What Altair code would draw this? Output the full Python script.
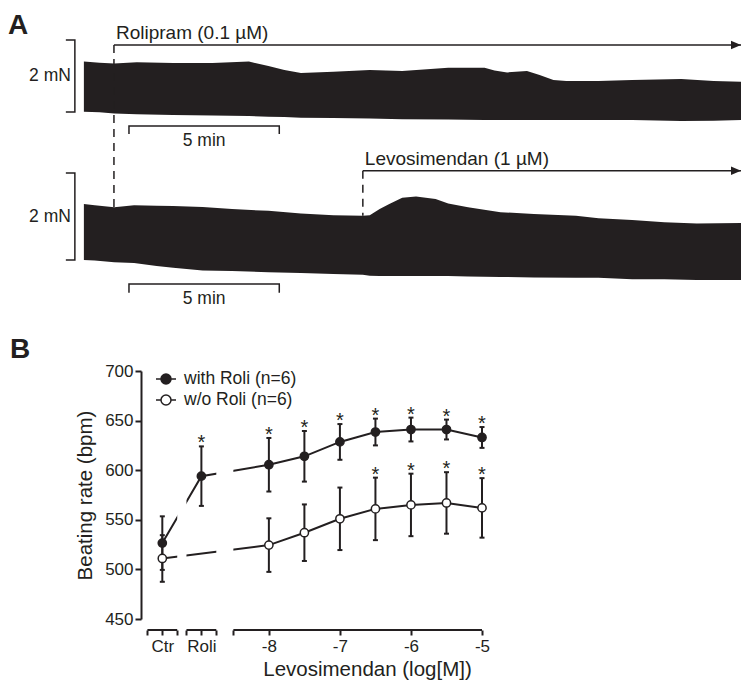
import altair as alt
import pandas as pd

FONT = "Liberation Sans"
INK = "#231f20"

# ---------------- Panel A: force traces (time in min, force in mN) ----------------
trace1_t = [0, 0.52, 1.01, 1.76, 2.97, 4.28, 5.49, 6.14, 6.67, 7.22, 8.30, 9.51, 10.59,
            12.12, 13.33, 13.66, 14.08, 14.74, 15.16, 15.62, 16.05, 17.12, 18.24, 19.87, 20.95, 21.86]
trace1_top = [1.40, 1.37, 1.35, 1.38, 1.36, 1.36, 1.40, 1.28, 1.17, 1.08, 1.12, 1.17, 1.14,
              1.23, 1.23, 1.15, 1.10, 1.14, 1.03, 0.89, 0.86, 0.86, 0.89, 0.92, 0.86, 0.84]
trace1_low = [0.01, -0.01, -0.04, -0.06, -0.08, -0.10, -0.11, -0.13, -0.14, -0.16, -0.17, -0.18, -0.20,
              -0.21, -0.22, -0.22, -0.22, -0.22, -0.22, -0.22, -0.22, -0.22, -0.22, -0.25, -0.24, -0.22]

trace2_t = [0, 0.36, 1.01, 1.67, 2.42, 2.97, 3.95, 4.93, 6.14, 7.22, 8.30, 9.28, 9.51, 9.84,
            10.16, 10.59, 11.05, 11.70, 12.12, 12.78, 13.86, 14.97, 16.37, 17.12, 18.24, 19.31, 20.39, 21.86]
trace2_top = [1.29, 1.26, 1.21, 1.26, 1.25, 1.24, 1.22, 1.17, 1.13, 1.07, 1.03, 1.02, 1.03, 1.17,
              1.29, 1.43, 1.46, 1.40, 1.30, 1.21, 1.10, 1.06, 1.02, 0.96, 0.92, 0.87, 0.84, 0.85]
trace2_low = [0, -0.01, -0.05, -0.07, -0.14, -0.18, -0.24, -0.25, -0.28, -0.30, -0.32, -0.34, -0.36, -0.37,
              -0.37, -0.37, -0.37, -0.37, -0.37, -0.38, -0.39, -0.40, -0.41, -0.41, -0.44, -0.44, -0.46, -0.46]

T_END = 21.86          # end of shown recording (min)
ROLI_T = 1.0           # rolipram added (min)
LEVO_T = 9.28          # levosimendan added (min)
TIME_BAR = [1.5, 6.5]  # 5 min scale bar
FORCE_BAR = [0, 2]     # 2 mN scale bar
roli_label = "Rolipram (0.1 µM)"
levo_label = "Levosimendan (1 µM)"

# ---------------- Panel B: beating rate ----------------
conditions = ["Ctr", "Roli", "-8", "-7.5", "-7", "-6.5", "-6", "-5.5", "-5"]
cond_pos = [-9.5, -8.95, -8, -7.5, -7, -6.5, -6, -5.5, -5]
with_mean = [526.5, 594, 605.5, 614, 628.5, 638.5, 641, 641, 633]
with_sem = [27, 30, 27, 25.5, 18, 13.5, 12, 10, 10.5]
with_sig = [False, True, True, True, True, True, True, True, True]
wo_mean = [511, None, 524.5, 537, 551, 561, 565, 567, 562]
wo_sem = [23.5, None, 27, 28.5, 31.5, 31.5, 31.5, 31, 30]
wo_sig = [False, None, False, False, False, True, True, True, True]
series_names = ["with Roli (n=6)", "w/o Roli (n=6)"]
seg_start = [-9.71, -9.16, -8.5]
seg_end = [-9.29, -8.74, -5.0]
x_tick_values = [-9.71, -9.5, -9.29, -9.16, -8.95, -8.74, -8.5, -8, -7, -6, -5]
y_ticks = [450, 500, 550, 600, 650, 700]

# ---------------- layout ----------------
SPACING = 6
PX_PER_MIN = 30.05
A_LEFT = 1.9
W_A = round((T_END - A_LEFT) * PX_PER_MIN)
PX_PER_MN1, PX_PER_MN2 = 36.0, 43.5
GAP_A, GAP_B = 61, 111            # free space below trace panels
H_A1 = round(2 * PX_PER_MN1) + GAP_A - SPACING
H_A2 = round(2 * PX_PER_MN2) + GAP_B - SPACING
W_B, H_B = 341, 248
BX, STUB = -0.3, 0.3
ARROW_PATH = "M-1,-0.85L1,0L-1,0.85Z"
LEGEND_PATH = ("M-1,0L-0.5,0M0.5,0L1,0M-0.5,0A0.5,0.5,0,1,1,0.5,0"
               "A0.5,0.5,0,1,1,-0.5,0Z")


def xa(field):
    return alt.X(field, type="quantitative",
                 scale=alt.Scale(domain=[A_LEFT, T_END], nice=False, zero=False), axis=None)


def trace_panel(t, top, low, height, px_per_mn, arrow_t, arrow_y, label, dash_end,
                bar_y, bar_tick, letter=None, letter_y=0):
    ydom = [FORCE_BAR[1] - height / px_per_mn, FORCE_BAR[1]]

    def ya(field):
        return alt.Y(field, type="quantitative",
                     scale=alt.Scale(domain=ydom, nice=False, zero=False), axis=None)

    df = pd.DataFrame({"t": t, "top": top, "low": low})
    area = alt.Chart(df).mark_area(color=INK).encode(x=xa("t"), y=ya("top"), y2="low")

    br = pd.DataFrame({"x": [BX - STUB, BX, BX, BX - STUB],
                       "y": [FORCE_BAR[1], FORCE_BAR[1], FORCE_BAR[0], FORCE_BAR[0]],
                       "o": [0, 1, 2, 3]})
    bracket = alt.Chart(br).mark_line(color=INK, strokeWidth=1.5).encode(
        x=xa("x"), y=ya("y"), order="o:Q")
    mn = alt.Chart(pd.DataFrame({"x": [BX], "y": [sum(FORCE_BAR) / 2], "s": ["2 mN"]})).mark_text(
        align="right", baseline="middle", dx=-4, fontSize=17.5, color=INK).encode(
        x=xa("x"), y=ya("y"), text="s")

    arr = pd.DataFrame({"x1": [arrow_t], "x2": [T_END], "y": [arrow_y], "yd": [dash_end], "s": [label]})
    arrow_line = alt.Chart(arr).mark_rule(color=INK, strokeWidth=1.5).encode(
        x=xa("x1"), x2="x2", y=ya("y"))
    arrow_head = alt.Chart(arr).mark_point(shape=ARROW_PATH, size=100, filled=True, fill=INK,
                                           strokeWidth=0, opacity=1, xOffset=-5).encode(
        x=xa("x2"), y=ya("y"))
    dash = alt.Chart(arr).mark_rule(color=INK, strokeWidth=1.5, strokeDash=[8, 6]).encode(
        x=xa("x1"), y=ya("y"), y2="yd")
    lab = alt.Chart(arr).mark_text(align="left", baseline="alphabetic", dx=2, dy=-6,
                                   fontSize=19, color=INK).encode(x=xa("x1"), y=ya("y"), text="s")

    tb = pd.DataFrame({"x": [TIME_BAR[0], TIME_BAR[0], TIME_BAR[1], TIME_BAR[1]],
                       "y": [bar_tick, bar_y, bar_y, bar_tick], "o": [0, 1, 2, 3]})
    tbar = alt.Chart(tb).mark_line(color=INK, strokeWidth=1.5).encode(
        x=xa("x"), y=ya("y"), order="o:Q")
    tlab = alt.Chart(pd.DataFrame({"x": [sum(TIME_BAR) / 2], "y": [bar_y], "s": ["5 min"]})).mark_text(
        align="center", baseline="middle", dy=15, fontSize=17.5, color=INK).encode(
        x=xa("x"), y=ya("y"), text="s")

    layers = [area, bracket, mn, arrow_line, arrow_head, dash, lab, tbar, tlab]
    if letter:
        layers.append(alt.Chart(pd.DataFrame({"s": [letter]})).mark_text(
            align="left", baseline="alphabetic", fontSize=28, fontWeight="bold", color=INK).encode(
            text="s", x=alt.value(-133), y=alt.value(letter_y)))
    return alt.layer(*layers).properties(width=W_A, height=height)


# Rolipram dashed line runs down to the top of the lower trace (in upper panel's mN units)
roli_dash_end = 2 - (2 * PX_PER_MN1 + GAP_A + (2 - trace2_top[2]) * PX_PER_MN2) / PX_PER_MN1
a1 = trace_panel(trace1_t, trace1_top, trace1_low, H_A1, PX_PER_MN1, ROLI_T, 1.86, roli_label,
                 roli_dash_end, -0.39, -0.61, letter="A", letter_y=-6)
a2 = trace_panel(trace2_t, trace2_top, trace2_low, H_A2, PX_PER_MN2, LEVO_T, 2.05, levo_label,
                 trace2_top[11], -0.55, -0.75)

# ---------------- Panel B chart ----------------
rows = []
for name, means, sems, sigs in [(series_names[0], with_mean, with_sem, with_sig),
                                (series_names[1], wo_mean, wo_sem, wo_sig)]:
    for c, p, m, s, g in zip(conditions, cond_pos, means, sems, sigs):
        if m is None:
            continue
        rows.append(dict(series=name, cond=c, pos=p, mean=m, lo=m - s, hi=m + s, sig=bool(g)))
dfb = pd.DataFrame(rows)

caps = pd.concat([dfb.assign(v=dfb["lo"]), dfb.assign(v=dfb["hi"])], ignore_index=True)
gaps = pd.DataFrame({"g0": seg_end[:-1], "g1": seg_start[1:]})
segs = pd.DataFrame({"s0": seg_start, "s1": seg_end})

x_axis = alt.Axis(
    values=x_tick_values,
    labelExpr=("datum.value == -9.5 ? 'Ctr' : (datum.value == -8.95 ? 'Roli' : "
               "(datum.value == round(datum.value) ? '-' + abs(datum.value) : ''))"),
    domain=False, offset=11, tickSize=5, tickWidth=2, tickColor=INK,
    labelPadding=3, labelFontSize=17, labelColor=INK, labelOverlap=False,
    labelFlush=False, labelBound=False, grid=False,
    title="Levosimendan (log[M])", titleFontSize=20.5, titleFontWeight="normal", titleColor=INK,
    titleX=226, titleY=45, titleAlign="center", titleBaseline="alphabetic")
y_axis = alt.Axis(
    values=y_ticks, domainColor=INK, domainWidth=2, tickSize=6, tickWidth=2, tickColor=INK,
    labelPadding=2, labelFontSize=17, labelColor=INK, grid=False,
    title="Beating rate (bpm)", titleFontSize=20.5, titleFontWeight="normal", titleColor=INK,
    titlePadding=9)


def xb(field):
    return alt.X(field, type="quantitative",
                 scale=alt.Scale(domain=[-9.8, -5], nice=False, zero=False), axis=x_axis)


def yb(field):
    return alt.Y(field, type="quantitative",
                 scale=alt.Scale(domain=[450, 700], nice=False, zero=False), axis=y_axis)


lines = alt.Chart(dfb).mark_line(color=INK, strokeWidth=2).encode(
    x=xb("pos"), y=yb("mean"), detail="series:N")
gap_rects = alt.Chart(gaps).mark_rect(color="white").encode(
    x=xb("g0"), x2="g1", y=alt.value(0), y2=alt.value(H_B))
err = alt.Chart(dfb).mark_rule(color=INK, strokeWidth=2).encode(
    x=xb("pos"), y=yb("lo"), y2="hi")
cap = alt.Chart(caps).mark_tick(color=INK, orient="horizontal", size=5, thickness=2, opacity=1).encode(
    x=xb("pos"), y=yb("v"))
pts = alt.Chart(dfb).mark_point(shape="circle", filled=True, size=68, stroke=INK,
                                strokeWidth=1.5, opacity=1).encode(
    x=xb("pos"), y=yb("mean"),
    fill=alt.Fill("series:N", scale=alt.Scale(domain=series_names, range=[INK, "white"]),
                  legend=alt.Legend(title=None, orient="none", legendX=14, legendY=-3,
                                    symbolType=LEGEND_PATH, symbolSize=400,
                                    symbolStrokeColor=INK, symbolStrokeWidth=1.5,
                                    symbolOpacity=1,
                                    labelFontSize=17.5, labelColor=INK, labelOffset=7,
                                    rowPadding=1, padding=0, labelLimit=300)))
stars = alt.Chart(dfb).transform_filter("datum.sig").mark_text(
    text="*", fontSize=20, dy=3, baseline="alphabetic", color=INK).encode(
    x=xb("pos"), y=yb("hi"))
axis_segs = alt.Chart(segs).mark_rule(color=INK, strokeWidth=2).encode(
    x=xb("s0"), x2="s1", y=alt.value(H_B + 11))
letter_b = alt.Chart(pd.DataFrame({"s": ["B"]})).mark_text(
    align="left", baseline="alphabetic", fontSize=28, fontWeight="bold", color=INK).encode(
    text="s", x=alt.value(-131), y=alt.value(-13))

b = alt.layer(lines, gap_rects, err, cap, pts, stars, axis_segs, letter_b).properties(
    width=W_B, height=H_B)

chart = alt.vconcat(a1, a2, b, spacing=SPACING, bounds="flush").resolve_legend(
    fill="independent").properties(
    padding={"top": 4, "left": 0, "right": 0, "bottom": 0}).configure(
    font=FONT).configure_view(stroke=None)

chart.save("out.html", embed_options={"renderer": "svg", "actions": False})
